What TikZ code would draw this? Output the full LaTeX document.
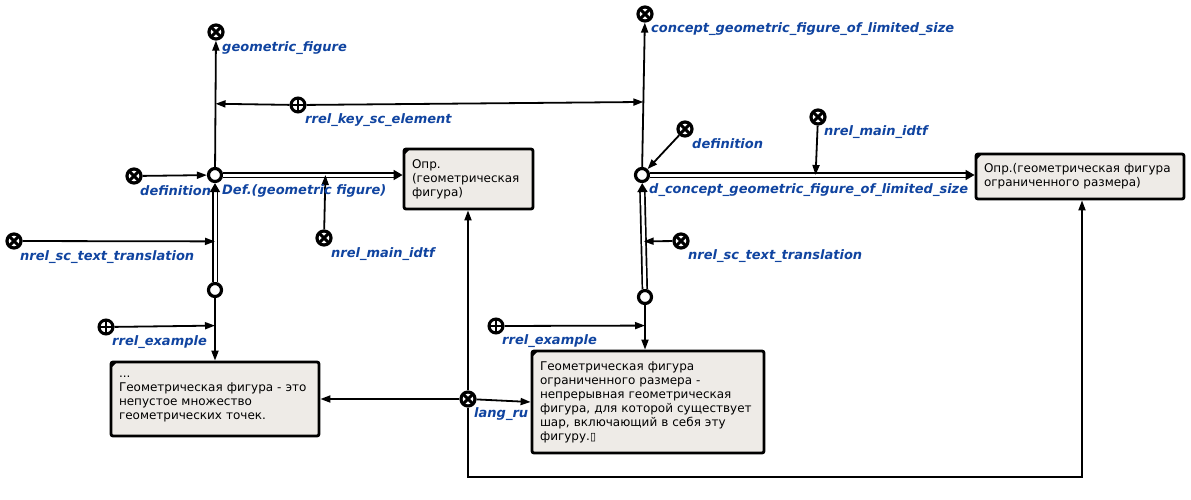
\documentclass[tikz,border=0pt]{standalone}
\usepackage{fontspec}
\setmainfont{DejaVu Sans}
\usetikzlibrary{arrows.meta}
\definecolor{lblue}{RGB}{16,68,160}
\definecolor{boxfill}{RGB}{238,235,231}
\begin{document}
\begin{tikzpicture}[x=1pt,y=-1pt,
 cls/.style={circle, draw, fill=white, line width=3.2pt, minimum size=14pt, inner sep=0pt,
   path picture={\draw[line width=3pt] (path picture bounding box.center) +(-5,-5) -- +(5,5) +(-5,5) -- +(5,-5);}},
 rrl/.style={circle, draw, fill=white, line width=3pt, minimum size=14pt, inner sep=0pt,
   path picture={\draw[line width=1.8pt] (path picture bounding box.center) +(-7,0) -- +(7,0) +(0,-7) -- +(0,7);}},
 bnode/.style={circle, draw, fill=white, line width=3.2pt, minimum size=13pt, inner sep=0pt},
 arc/.style={line width=1.8pt, -{Triangle[length=10pt,width=7pt]}},
 comm/.style={line width=1.7pt, double=white, double distance=3pt, -{Triangle[length=9pt,width=10pt]}},
 lbl/.style={text=lblue, font=\fontsize{13}{15}\selectfont\bfseries\itshape, inner sep=0pt, anchor=west},
 box/.style={draw, line width=2.8pt, fill=boxfill, rounded corners=2pt, align=left,
   font=\fontsize{12}{14}\selectfont, inner xsep=8pt, inner ysep=0pt}
]
\path[use as bounding box] (0,0) rectangle (1191,499);

% ---- left structure nodes
\node[cls] (gf) at (216,32) {};
\node[bnode] (def1) at (215,175) {};
\node[rrl] (rks) at (298,105) {};
\node[cls] (defn1) at (134,176) {};
\node[bnode] (mid1) at (215,290) {};
\node[cls] (nmi1) at (324,238) {};
\node[cls] (nst1) at (14,241) {};
\node[rrl] (rex1) at (106,327) {};

% ---- right structure nodes
\node[cls] (cg) at (645,14) {};
\node[bnode] (def2) at (642,175) {};
\node[cls] (defn2) at (685,129) {};
\node[cls] (nmi2) at (818,117) {};
\node[bnode] (mid2) at (645,297) {};
\node[cls] (nst2) at (681,241) {};
\node[rrl] (rex2) at (496,326) {};

\node[cls] (lru) at (468,399) {};

% ---- boxes
\node[box, text width=113pt, minimum height=60pt] (box1) at (468.5,179) {Опр.\\(геометрическая\\фигура)};
\node[box, text width=192pt, minimum height=45pt] (box2) at (1080,176.5) {Опр.(геометрическая фигура\\ограниченного размера)};
\node[box, text width=192pt, minimum height=74pt] (box3) at (215,399) {...\\Геометрическая фигура - это\\непустое множество\\геометрических точек.};
\node[box, text width=216pt, minimum height=102pt] (box4) at (648,402) {Геометрическая фигура\\ограниченного размера -\\непрерывная геометрическая\\фигура, для которой существует\\шар, включающий в себя эту\\фигуру.{\fontsize{11}{14}\selectfont ▯}};
\foreach \b in {box1,box2,box3,box4}
  \fill ([shift={(1.5,1.5)}]\b.north west) -- ++(6,0) -- ++(-6,6) -- cycle;

% ---- connectors left
\draw[arc] (def1) -- coordinate[pos=0.5] (a1) (gf);
\draw[comm] (def1) -- coordinate[pos=0.57] (b1) (box1.west |- def1);
\draw[comm] (mid1) -- coordinate[pos=0.41] (c1) (def1);
\draw[arc] (mid1) -- coordinate[pos=0.44] (d1) (box3.north -| mid1);
\draw[arc] (defn1) -- (def1);
\draw[arc] (nmi1) -- (b1);
\draw[arc] (nst1) -- (c1);
\draw[arc] (rex1) -- (d1);

% ---- connectors right
\draw[arc] (def2) -- coordinate[pos=0.45] (a2) (cg);
\draw[comm] (def2) -- coordinate[pos=0.51] (b2) (box2.west |- def2);
\draw[comm] (mid2) -- coordinate[pos=0.45] (c2) (def2);
\draw[arc] (mid2) -- coordinate[pos=0.46] (d2) (box4.north -| mid2);
\draw[arc] (defn2) -- (def2);
\draw[arc] (nmi2) -- (b2);
\draw[arc] (nst2) -- (c2);
\draw[arc] (rex2) -- (d2);

% ---- key element
\draw[arc] (rks) -- (a1);
\draw[arc] (rks) -- (a2);

% ---- lang_ru
\coordinate (turn) at (1082,477);
\draw[arc] (lru) -- (box3.east |- lru);
\draw[arc] (lru) -- (box4.west);
\draw[arc] (lru) -- (lru |- box1.south);
\draw[arc] (lru) |- (turn) -- (box2.south -| turn);

% ---- labels
\node[lbl] at (222,48) {geometric\_figure};
\node[lbl] at (305,120) {rrel\_key\_sc\_element};
\node[lbl] at (140,191) {definition};
\node[lbl] at (222,191) {Def.(geometric figure)};
\node[lbl] at (331,254) {nrel\_main\_idtf};
\node[lbl] at (20,257) {nrel\_sc\_text\_translation};
\node[lbl] at (112,342) {rrel\_example};
\node[lbl] at (651,29) {concept\_geometric\_figure\_of\_limited\_size};
\node[lbl] at (692,144) {definition};
\node[lbl] at (824,132) {nrel\_main\_idtf};
\node[lbl] at (649,190) {d\_concept\_geometric\_figure\_of\_limited\_size};
\node[lbl] at (688,256) {nrel\_sc\_text\_translation};
\node[lbl] at (502,341) {rrel\_example};
\node[lbl] at (474,414) {lang\_ru};
\end{tikzpicture}
\end{document}
